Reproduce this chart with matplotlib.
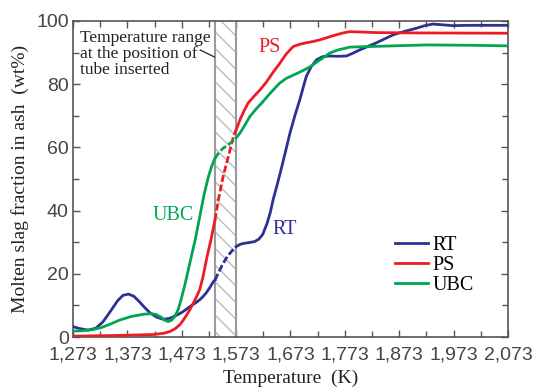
import numpy as np
import matplotlib.pyplot as plt

# temperatures (K) and molten slag fraction (wt%)
t_rt = [1273, 1285, 1301, 1315, 1328, 1342, 1355, 1365, 1375, 1385, 1395, 1405, 1415, 1427,
        1439, 1450, 1460, 1468, 1475, 1483, 1491, 1500, 1506, 1512, 1518, 1524, 1531, 1534,
        1541, 1549, 1557, 1565, 1573, 1580, 1586, 1597, 1607, 1615, 1622, 1630, 1636, 1641,
        1649, 1657, 1665, 1672, 1681, 1690, 1702, 1711, 1721, 1732, 1745, 1760, 1776, 1788,
        1800, 1815, 1830, 1846, 1862, 1883, 1905, 1920, 1935, 1950, 1971, 2000, 2073]
rt = [3.3, 2.7, 2.2, 2.8, 4.8, 8.2, 11.5, 13.2, 13.6, 12.9, 11.2, 9.3, 7.6, 6.3,
      5.6, 5.9, 6.6, 7.3, 8.0, 9.0, 10.0, 11.0, 11.8, 12.8, 14.0, 15.5, 17.5, 18.0,
      20.5, 23.3, 25.5, 27.2, 28.6, 29.3, 29.6, 29.9, 30.2, 31.0, 32.5, 36.0, 39.5, 43.4,
      48.5, 53.9, 59.5, 64.5, 70.0, 75.0, 82.4, 85.5, 87.7, 88.7, 88.9, 88.8, 88.9, 89.8,
      90.8, 91.9, 93.0, 94.3, 95.6, 96.7, 97.7, 98.5, 99.0, 98.8, 98.5, 98.6, 98.6]

t_ps = [1273, 1350, 1420, 1440, 1452, 1462, 1470, 1476, 1482, 1488, 1494, 1500, 1506, 1512,
        1519, 1527, 1534, 1541, 1549, 1560, 1568, 1573, 1580, 1588, 1595, 1605, 1617, 1628,
        1640, 1653, 1665, 1678, 1690, 1700, 1715, 1727, 1740, 1755, 1770, 1782, 1800, 1831,
        1900, 2073]
ps = [0.3, 0.5, 0.8, 1.2, 1.8, 2.8, 4.0, 5.4, 7.0, 8.7, 10.6, 12.7, 15.0, 19.0,
      25.0, 31.0, 37.0, 44.0, 50.7, 58.0, 63.4, 65.5, 68.7, 71.7, 74.0, 76.0, 78.2, 80.5,
      83.5, 86.5, 89.5, 91.9, 92.6, 93.0, 93.5, 94.0, 94.7, 95.5, 96.2, 96.6, 96.5, 96.3,
      96.2, 96.1]

t_ubc = [1273, 1290, 1310, 1325, 1340, 1359, 1380, 1402, 1415, 1425, 1435, 1442, 1448, 1454,
         1460, 1466, 1472, 1478, 1484, 1490, 1498, 1506, 1514, 1522, 1528, 1534, 1542, 1549,
         1558, 1568, 1573, 1580, 1590, 1598, 1610, 1620, 1635, 1653, 1665, 1680, 1695, 1709,
         1720, 1730, 1745, 1760, 1782, 1820, 1861, 1923, 2000, 2073]
ubc = [1.9, 2.0, 2.4, 3.0, 4.0, 5.4, 6.5, 7.2, 7.4, 7.2, 6.3, 5.3, 4.9, 5.3,
       6.5, 8.5, 12.0, 16.0, 20.5, 25.0, 31.0, 38.0, 45.0, 50.7, 54.0, 56.5, 58.5, 59.7,
       60.8, 62.1, 63.0, 64.5, 67.3, 69.7, 72.2, 74.0, 77.0, 80.3, 81.8, 83.0, 84.2, 85.5,
       86.8, 88.0, 89.8, 90.8, 91.7, 91.9, 92.1, 92.4, 92.3, 92.1]

band = (1534, 1573)   # temperature range at the tube position
xticks = np.arange(1273, 2074, 100)
xtick_labels = ['1,273', '1,373', '1,473', '1,573', '1,673', '1,773', '1,873', '1,973', '2,073']

serif = 'Liberation Serif'
sans = 'Liberation Sans'

fig = plt.figure(figsize=(5.33, 3.87), dpi=100)
ax = fig.add_axes([0.137, 0.129, 0.816, 0.817])

ax.axvspan(band[0], band[1], facecolor='white', edgecolor='#bbbbbb', hatch='\\\\', lw=0, zorder=1)
ax.axvline(band[0], color='#9a9a9a', lw=1.5, zorder=2)
ax.axvline(band[1], color='#9a9a9a', lw=1.5, zorder=2)

def draw(t, v, color, label):
    t = np.array(t); v = np.array(v)
    lo = t <= band[0]
    mid = (t >= band[0]) & (t <= band[1])
    hi = t >= band[1]
    ax.plot(t[lo], v[lo], color=color, lw=2, zorder=3, label=label, solid_joinstyle='round')
    ax.plot(t[mid], v[mid], color=color, lw=2, ls=(0, (2.5, 1)), zorder=3)
    ax.plot(t[hi], v[hi], color=color, lw=2, zorder=3, solid_joinstyle='round')

draw(t_rt, rt, '#2e3192', 'RT')
draw(t_ps, ps, '#ed1c24', 'PS')
draw(t_ubc, ubc, '#00a651', 'UBC')

ax.set_xlim(1273, 2073)
ax.set_ylim(0, 100)
ax.set_xticks(xticks)
ax.set_xticklabels(xtick_labels)
ax.set_xticks(np.arange(1323, 2073, 100), minor=True)
ax.set_yticks(np.arange(0, 101, 20))
ax.set_yticks(np.arange(10, 100, 20), minor=True)
ax.tick_params(which='both', direction='in', top=True, right=True, color='#555555', width=1)
ax.tick_params(which='major', length=5)
ax.tick_params(which='minor', length=4)
ax.tick_params(axis='x', which='major', pad=7)
ax.tick_params(axis='y', which='major', pad=3)
for lab in ax.get_xticklabels() + ax.get_yticklabels():
    lab.set_fontfamily(sans)
    lab.set_fontsize(14)
    lab.set_color('#444444')
for s in ax.spines.values():
    s.set_color('#555555')
    s.set_linewidth(1.2)

ax.set_xlabel('Temperature  (K)', family=serif, fontsize=14, color='#222222', labelpad=4)
ax.set_ylabel('Molten slag fraction in ash  (wt%)', family=serif, fontsize=14, color='#222222', labelpad=5)

ax.text(1286, 97, 'Temperature range\nat the position of\ntube inserted', family=serif,
        fontsize=12.5, color='#222222', va='top', ha='left', linespacing=1.0, zorder=4)
ax.plot([1507, 1533], [90.8, 88.6], color='#222222', lw=0.9, zorder=4)

ax.text(1635, 91.5, 'PS', family=serif, fontsize=14.5, color='#ed1c24', ha='center', va='center')
ax.text(1458, 38.6, 'UBC', family=serif, fontsize=14.5, color='#00a651', ha='center', va='center')
ax.text(1663, 33.9, 'RT', family=serif, fontsize=14.5, color='#2e3192', ha='center', va='center')

ax.legend(loc='upper left', bbox_to_anchor=(0.74, 0.32), frameon=False, borderpad=0,
          borderaxespad=0, handlelength=1.65, handletextpad=0.2, labelspacing=0.05,
          prop={'family': serif, 'size': 14.5})

fig.savefig('out.png', dpi=100)
